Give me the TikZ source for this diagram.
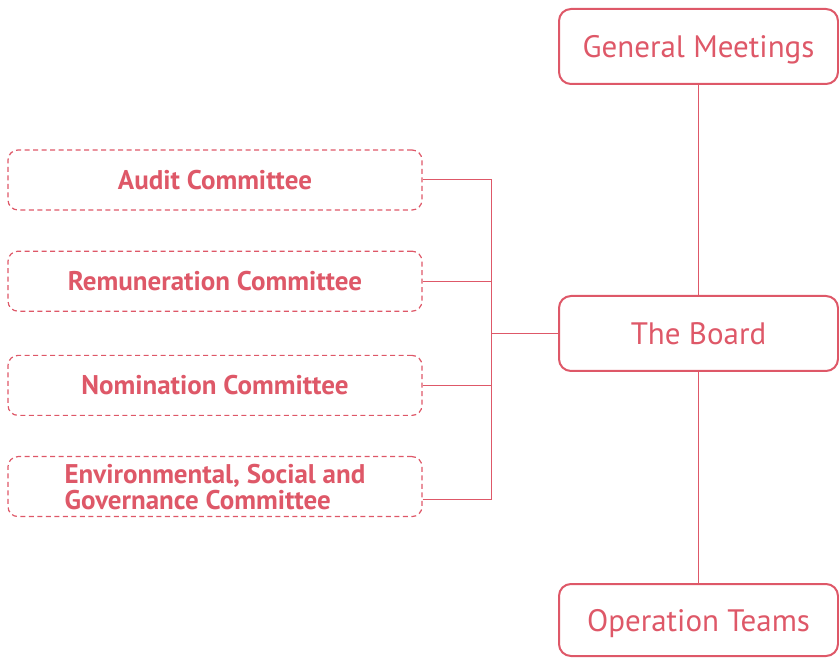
\documentclass[tikz,border=0pt]{standalone}
\usepackage{fontspec}
\setmainfont{PT Sans}
\usepackage{tikz}
\definecolor{govred}{RGB}{222, 88, 104}
\usetikzlibrary{positioning, calc}

\begin{document}
\begin{tikzpicture}[
    x=1pt, y=1pt,
    node distance=40pt,
    body/.style={rectangle, draw=govred, line width=2pt, rounded corners=12pt,
                 minimum width=279pt, minimum height=75pt, align=center,
                 text depth=0pt, text=govred, font=\fontsize{31}{34}\selectfont},
    committee/.style={rectangle, draw=govred, line width=1.2pt,
                      dash pattern=on 5pt off 3.5pt, rounded corners=10pt,
                      minimum width=414pt, minimum height=60pt, inner sep=2pt,
                      align=center, text=govred,
                      font=\bfseries\fontsize{27}{26}\selectfont},
    link/.style={draw=govred, line width=1pt}
]
    \useasboundingbox (0,0) rectangle (839,657);

    % main line
    \node[body] (board) at (698.5,323.5) {The Board};
    \node[body] (meet) at (698.5,610.5) {General Meetings};
    \node[body, minimum height=72pt] (ops) at (698.5,37) {Operation Teams};

    % committees
    \node[committee] (audit) at (215,477) {Audit Committee};
    \node[committee, below=of audit] (remun) {Remuneration Committee};
    \node[committee, below=43pt of remun] (nomin) {Nomination Committee};
    \node[committee, below=40pt of nomin, align=left] (esg)
        {Environmental, Social and\\Governance Committee};

    \coordinate (bus) at (491,323.5);

    \draw[link] (meet) -- (board);
    \draw[link] (board) -- (ops);
    \draw[link] (board) -- (bus);
    \draw[link] (audit.east) -| (bus);
    \draw[link] (remun.east) -| (bus);
    \draw[link] (nomin.east) -| (bus);
    \draw[link] ($(esg.east)+(0,-13)$) -| (bus);
\end{tikzpicture}
\end{document}
